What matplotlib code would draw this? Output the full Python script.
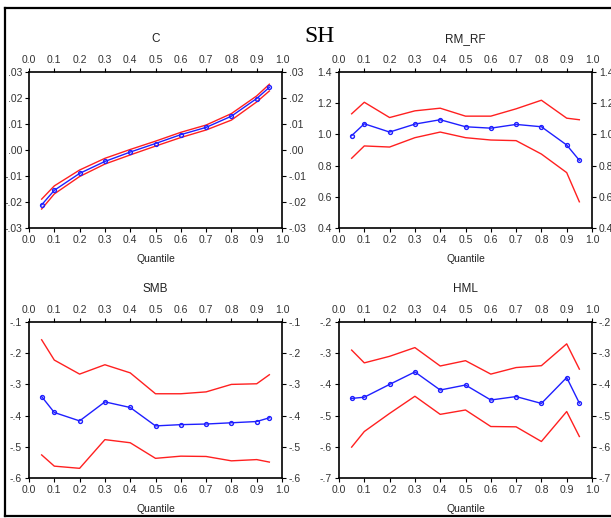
import matplotlib
matplotlib.use("Agg")
import matplotlib.pyplot as plt
from matplotlib.lines import Line2D
from matplotlib.ticker import FuncFormatter, MultipleLocator

plt.rcParams['font.family'] = ['Liberation Sans', 'DejaVu Sans']

quantiles = [0.05, 0.1, 0.2, 0.3, 0.4, 0.5, 0.6, 0.7, 0.8, 0.9, 0.95]

c_est = [-0.0211, -0.0155, -0.0090, -0.0044, -0.0008, 0.0025, 0.0059, 0.0087, 0.0130, 0.0198, 0.0241]
c_up = [-0.0189, -0.0138, -0.0077, -0.0032, 0.0002, 0.0034, 0.0068, 0.0096, 0.0140, 0.0208, 0.0253]
c_lo = [-0.0227, -0.0169, -0.0102, -0.0054, -0.0019, 0.0015, 0.0048, 0.0077, 0.0115, 0.0185, 0.0227]

rm_est = [0.992, 1.068, 1.015, 1.066, 1.094, 1.049, 1.040, 1.064, 1.049, 0.932, 0.834]
rm_up = [1.132, 1.206, 1.108, 1.151, 1.168, 1.117, 1.117, 1.164, 1.219, 1.104, 1.094]
rm_lo = [0.847, 0.926, 0.919, 0.979, 1.015, 0.979, 0.964, 0.960, 0.874, 0.755, 0.568]

smb_est = [-0.339, -0.390, -0.417, -0.356, -0.374, -0.433, -0.429, -0.427, -0.423, -0.419, -0.407]
smb_up = [-0.157, -0.222, -0.267, -0.237, -0.263, -0.330, -0.330, -0.324, -0.300, -0.298, -0.269]
smb_lo = [-0.526, -0.562, -0.569, -0.477, -0.487, -0.537, -0.530, -0.531, -0.545, -0.541, -0.549]

hml_est = [-0.445, -0.441, -0.400, -0.360, -0.418, -0.402, -0.450, -0.439, -0.461, -0.378, -0.460]
hml_up = [-0.290, -0.331, -0.310, -0.282, -0.341, -0.324, -0.367, -0.346, -0.340, -0.270, -0.351]
hml_lo = [-0.601, -0.551, -0.493, -0.438, -0.496, -0.482, -0.535, -0.536, -0.583, -0.487, -0.567]

titles = ["C", "RM_RF", "SMB", "HML"]
ylims = [(-0.03, 0.03), (0.4, 1.4), (-0.6, -0.1), (-0.7, -0.2)]
ysteps = [0.01, 0.2, 0.1, 0.1]
ydec = [2, 1, 1, 1]
series = [(c_est, c_up, c_lo), (rm_est, rm_up, rm_lo),
          (smb_est, smb_up, smb_lo), (hml_est, hml_up, hml_lo)]

W, H = 611, 518
fig = plt.figure(figsize=(W / 100, H / 100), dpi=100)

boxes = [(29, 72, 282, 228), (339, 72, 592, 228), (29, 322, 282, 478), (339, 322, 592, 478)]


def make_fmt(dec, strip):
    def f(v, pos):
        s = f"{v:.{dec}f}"
        if s.startswith("-") and float(s) == 0:
            s = s[1:]
        if strip:
            s = s.replace("0.", ".", 1)
        return s
    return f


for i, (box, title, ylim, step, dec, (est, up, lo)) in enumerate(
        zip(boxes, titles, ylims, ysteps, ydec, series)):
    x0, y0, x1, y1 = box
    ax = fig.add_axes([x0 / W, 1 - y1 / H, (x1 - x0) / W, (y1 - y0) / H])
    ax.plot(quantiles, up, color='#ff2020', lw=1.0)
    ax.plot(quantiles, lo, color='#ff2020', lw=1.0)
    ax.plot(quantiles, est, color='#1f1fff', lw=1.0, marker='o', ms=2.8,
            mfc='none', mec='#1f1fff', mew=1.0)
    ax.set_xlim(0, 1)
    ax.set_ylim(*ylim)
    ax.xaxis.set_major_locator(MultipleLocator(0.1))
    ax.yaxis.set_major_locator(MultipleLocator(step))
    ax.xaxis.set_major_formatter(FuncFormatter(lambda v, p: f"{v:.1f}"))
    strip = i != 1
    ax.yaxis.set_major_formatter(FuncFormatter(make_fmt(dec, strip)))
    ax.tick_params(axis='both', which='both', direction='out', length=3, width=0.8,
                   labelsize=7.5, pad=2, colors='black',
                   top=True, labeltop=True, right=True, labelright=True)
    for tl in ax.get_xticklabels() + ax.get_yticklabels():
        tl.set_color('#333333')
    for sp in ax.spines.values():
        sp.set_linewidth(1.2)
        sp.set_color('black')
    cx = (x0 + x1) / 2 / W
    fig.text(cx, 1 - (y0 - 33) / H, title, ha='center', va='center', fontsize=8.5,
             color='#222222')
    fig.text(cx, 1 - (y1 + 31) / H, "Quantile", ha='center', va='center',
             fontsize=7.5, color='#222222')

fig.text(319 / W, 1 - 37 / H, "SH", ha='center', va='center', fontsize=17,
         family=['Liberation Serif', 'DejaVu Serif'], color='black')

# outer frame
fig.add_artist(Line2D([5 / W, 5 / W], [1 - 8 / H, 1 - 516 / H], color='black', lw=1.6,
                      transform=fig.transFigure))
fig.add_artist(Line2D([5 / W, 1.0], [1 - 8 / H, 1 - 8 / H], color='black', lw=1.6,
                      transform=fig.transFigure))
fig.add_artist(Line2D([5 / W, 1.0], [1 - 516 / H, 1 - 516 / H], color='black', lw=1.6,
                      transform=fig.transFigure))

fig.savefig("out.png", dpi=100, facecolor='white')
